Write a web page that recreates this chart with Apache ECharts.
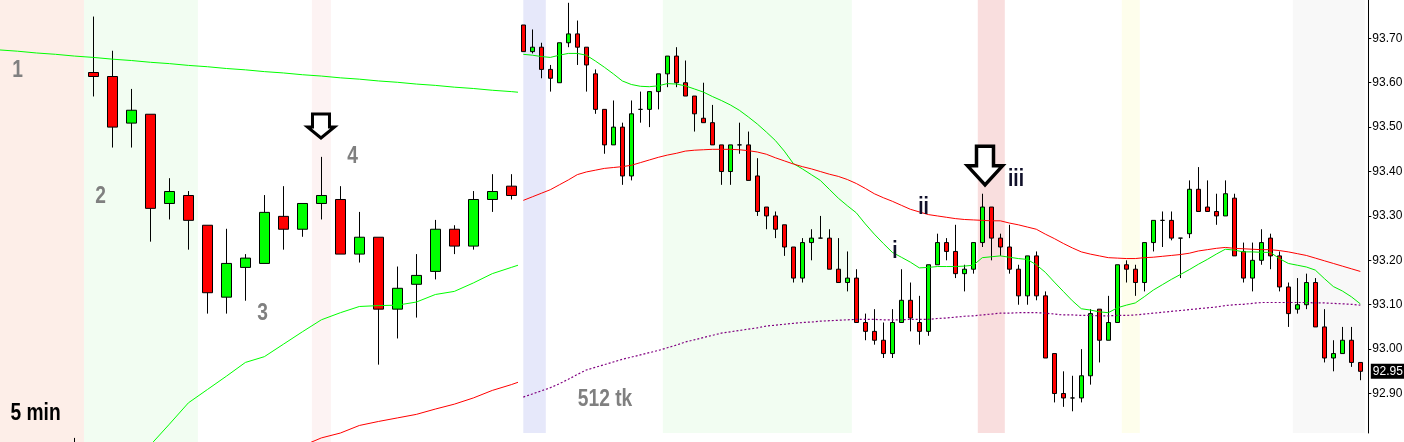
<!DOCTYPE html>
<html><head><meta charset="utf-8">
<script src="https://cdn.jsdelivr.net/npm/echarts@6/dist/echarts.min.js"></script>
<style>html,body{margin:0;padding:0;background:#fff;overflow:hidden}#c{width:1404px;height:442px}</style>
</head><body><div id="c"></div>
<script>
// ---------------- DATA ----------------
// Left panel (5 min), candles indexed from leftStart
const leftStart = -1;
const leftOpen  = [92.75, 93.623, 93.614, 93.509, 93.529, 93.328, 93.346, 93.279, 93.117, 93.184, 93.193, 93.299, 93.270, 93.328, 93.337, 93.214, 93.252, 93.090, 93.146, 93.175, 93.270, 93.232, 93.337, 93.367];
const leftHigh  = [92.80, 93.749, 93.672, 93.586, 93.529, 93.385, 93.356, 93.279, 93.271, 93.214, 93.347, 93.367, 93.328, 93.433, 93.367, 93.309, 93.252, 93.186, 93.214, 93.291, 93.279, 93.356, 93.394, 93.394];
const leftLow   = [92.70, 93.569, 93.454, 93.454, 93.242, 93.292, 93.224, 93.080, 93.080, 93.109, 93.193, 93.224, 93.253, 93.292, 93.214, 93.195, 92.965, 93.024, 93.071, 93.157, 93.214, 93.224, 93.309, 93.337];
const leftClose = [92.72, 93.614, 93.500, 93.538, 93.317, 93.355, 93.290, 93.127, 93.193, 93.205, 93.308, 93.270, 93.328, 93.346, 93.214, 93.252, 93.090, 93.137, 93.166, 93.270, 93.232, 93.337, 93.355, 93.346];
const leftMaLongStart = -5;
const leftMaLong = [93.674, 93.671, 93.667, 93.664, 93.660, 93.657, 93.653, 93.650, 93.646, 93.643, 93.639, 93.636, 93.632, 93.629, 93.625, 93.622, 93.618, 93.615, 93.611, 93.608, 93.604, 93.601, 93.597, 93.594, 93.590, 93.587, 93.583, 93.580, 93.576];
const leftMaGreenStart = 2;
const leftMaGreen = [92.72, 92.784, 92.831, 92.879, 92.909, 92.939, 92.970, 92.983, 93.011, 93.039, 93.066, 93.082, 93.096, 93.098, 93.099, 93.106, 93.123, 93.130, 93.149, 93.170, 93.184, 93.198];
const leftMaRedStart = 11;
const leftMaRed = [92.782, 92.800, 92.811, 92.828, 92.837, 92.845, 92.853, 92.865, 92.876, 92.890, 92.907, 92.920, 92.935];

// Right panel (512 tk), candles indexed from rightStart
const rightStart = -1;
const rightOpen  = [93.73,93.67,93.68,93.63,93.60,93.69,93.71,93.68,93.62,93.54,93.46,93.50,93.39,93.54,93.54,93.58,93.62,93.66,93.60,93.57,93.52,93.51,93.46,93.40,93.46,93.46,93.39,93.32,93.30,93.28,93.23,93.16,93.24,93.25,93.25,93.18,93.15,93.16,93.06,93.04,93.02,92.99,93.06,93.11,93.06,93.04,93.19,93.24,93.22,93.17,93.18,93.24,93.32,93.25,93.23,93.18,93.12,93.21,93.12,92.99,92.90,92.89,92.89,92.94,93.09,93.02,93.06,93.19,93.18,93.15,93.24,93.29,93.29,93.25,93.26,93.36,93.32,93.31,93.30,93.34,93.22,93.16,93.20,93.25,93.21,93.14,93.09,93.10,93.15,93.05,92.98,92.99,93.02,92.97];
const rightHigh  = [93.73,93.72,93.69,93.64,93.69,93.78,93.74,93.68,93.63,93.54,93.56,93.51,93.56,93.58,93.58,93.62,93.66,93.68,93.65,93.57,93.60,93.55,93.46,93.46,93.51,93.49,93.43,93.32,93.31,93.28,93.23,93.25,93.27,93.30,93.27,93.25,93.22,93.18,93.08,93.09,93.06,93.09,93.18,93.15,93.12,93.19,93.26,93.25,93.28,93.19,93.24,93.35,93.32,93.26,93.28,93.19,93.21,93.22,93.13,92.99,92.95,92.94,93.00,93.09,93.09,93.12,93.19,93.20,93.19,93.24,93.29,93.31,93.31,93.25,93.38,93.41,93.38,93.35,93.38,93.35,93.24,93.24,93.27,93.26,93.22,93.15,93.16,93.17,93.16,93.09,93.02,93.05,93.05,92.97];
const rightLow   = [93.67,93.666,93.61,93.58,93.60,93.68,93.64,93.58,93.53,93.44,93.46,93.37,93.38,93.51,93.50,93.54,93.59,93.59,93.57,93.49,93.51,93.46,93.37,93.37,93.44,93.38,93.30,93.27,93.25,93.21,93.15,93.15,93.20,93.25,93.18,93.15,93.13,93.06,93.02,93.01,92.98,92.98,93.06,93.04,93.01,93.03,93.19,93.20,93.16,93.13,93.17,93.23,93.20,93.21,93.17,93.10,93.10,93.11,92.98,92.88,92.87,92.86,92.88,92.92,92.97,93.02,93.06,93.15,93.12,93.13,93.22,93.23,93.245,93.16,93.25,93.31,93.31,93.28,93.30,93.21,93.15,93.13,93.19,93.18,93.13,93.05,93.08,93.09,93.05,92.97,92.95,92.99,92.96,92.93];
const rightClose = [93.67,93.68,93.63,93.61,93.69,93.71,93.68,93.64,93.54,93.46,93.50,93.39,93.53,93.54,93.58,93.62,93.66,93.60,93.57,93.53,93.51,93.46,93.40,93.46,93.46,93.38,93.31,93.30,93.27,93.23,93.16,93.24,93.25,93.25,93.18,93.15,93.16,93.06,93.04,93.02,92.99,93.06,93.11,93.07,93.04,93.19,93.24,93.22,93.17,93.18,93.24,93.32,93.25,93.23,93.18,93.12,93.21,93.12,92.98,92.90,92.89,92.89,92.94,93.08,93.02,93.06,93.19,93.18,93.15,93.24,93.29,93.29,93.25,93.25,93.36,93.31,93.31,93.30,93.35,93.21,93.16,93.20,93.24,93.21,93.14,93.08,93.10,93.15,93.05,92.98,92.99,93.02,92.97,92.95];
const rightMaGreen = [93.664,93.662,93.659,93.657,93.662,93.666,93.666,93.662,93.649,93.635,93.620,93.604,93.596,93.592,93.591,93.593,93.598,93.597,93.593,93.586,93.579,93.569,93.560,93.550,93.538,93.523,93.507,93.489,93.470,93.446,93.418,93.406,93.393,93.380,93.360,93.340,93.323,93.307,93.282,93.259,93.238,93.218,93.207,93.196,93.183,93.184,93.186,93.186,93.186,93.187,93.189,93.206,93.208,93.210,93.207,93.204,93.202,93.190,93.173,93.151,93.130,93.109,93.091,93.088,93.084,93.082,93.093,93.099,93.104,93.118,93.133,93.145,93.157,93.168,93.179,93.191,93.202,93.214,93.225,93.223,93.219,93.219,93.218,93.218,93.204,93.193,93.189,93.185,93.178,93.159,93.141,93.131,93.118,93.102];
const rightMaRed = [93.335,93.343,93.351,93.359,93.370,93.381,93.393,93.399,93.403,93.407,93.409,93.411,93.414,93.420,93.426,93.432,93.437,93.441,93.446,93.448,93.449,93.450,93.450,93.450,93.449,93.447,93.444,93.439,93.431,93.424,93.417,93.411,93.406,93.400,93.394,93.389,93.382,93.373,93.362,93.350,93.341,93.333,93.324,93.315,93.309,93.303,93.300,93.297,93.294,93.292,93.291,93.290,93.289,93.289,93.284,93.280,93.275,93.270,93.259,93.249,93.238,93.228,93.219,93.214,93.210,93.206,93.205,93.204,93.204,93.206,93.207,93.209,93.211,93.213,93.216,93.221,93.224,93.227,93.229,93.227,93.226,93.225,93.224,93.224,93.222,93.219,93.215,93.211,93.205,93.199,93.193,93.187,93.181,93.175];
const rightMaPurple = [92.892,92.899,92.906,92.913,92.922,92.932,92.943,92.953,92.959,92.965,92.971,92.977,92.982,92.987,92.992,92.997,93.003,93.009,93.016,93.021,93.026,93.031,93.036,93.039,93.042,93.045,93.048,93.052,93.054,93.056,93.058,93.060,93.061,93.063,93.064,93.065,93.066,93.067,93.067,93.067,93.066,93.066,93.066,93.067,93.067,93.067,93.069,93.070,93.072,93.074,93.075,93.077,93.079,93.081,93.081,93.082,93.082,93.082,93.081,93.079,93.077,93.077,93.076,93.076,93.075,93.075,93.076,93.076,93.077,93.079,93.081,93.083,93.085,93.087,93.089,93.091,93.093,93.095,93.098,93.100,93.101,93.103,93.105,93.105,93.105,93.105,93.105,93.105,93.104,93.104,93.103,93.102,93.101,93.099];

const priceTicks = [92.8, 92.9, 93.0, 93.1, 93.2, 93.3, 93.4, 93.5, 93.6, 93.7];
const leftSessions  = [[-4.92, -0.5], [-0.5, 5.5], [11.5, 12.5]];
const rightSessions = [[-1.0, 1.5], [14.5, 35.5], [49.5, 52.5], [65.5, 67.5], [84.5, 92.5]];
const leftLabels  = [['1', -3.99, 93.627], ['2', 0.38, 93.345], ['3', 8.9, 93.080], ['4', 13.64, 93.433]];
const rightLabels = [['i', 40.3, 93.220], ['ii', 43.47, 93.320], ['iii', 53.74, 93.383]];
const leftArrowAt  = [11.98, 93.4755];
const rightArrowAt = [50.3, 93.370];

// ---------------- STYLE / LAYOUT ----------------
const leftBandColors  = ['#fdeee8', '#f2fdf2', '#fdf3f3'];
const rightBandColors = ['#e6e8fa', '#f2fdf2', '#f9dede', '#fefeec', '#f8f8f8'];
const AXFONT = '"Liberation Sans",Arial,sans-serif';
const NOTEFONT = 'bold 24px "Liberation Sans",Arial,sans-serif';
const NOTESCALE = 0.8;
// intended view windows (data units) and pixel rectangles
const view = [
  { x: [-4.92, 22.3],   y: [92.7908, 93.7863], rect: [0, 0, 517, 442] },
  { x: [-1.0, 92.889],  y: [92.8111, 93.7863], rect: [523.3, 0, 845, 433] }
];

function candles(start, o, h, l, c) { return o.map((v, i) => [start + i, v, c[i], l[i], h[i]]); }
function line(start, arr) { return arr.map((v, i) => [start + i, v]); }
function bands(ranges, colors) {
  return ranges.map((r, i) => [{ xAxis: r[0], itemStyle: { color: colors[i] } }, { xAxis: r[1] }]);
}

const chart = echarts.init(document.getElementById('c'), null, { renderer: 'canvas' });
const candleStyle = { color: '#00ff00', color0: '#ff0000', borderColor: '#000', borderColor0: '#000', borderColorDoji: '#000', borderWidth: 1 };
const lastClose = rightClose[rightClose.length - 1];

chart.setOption({
  animation: false,
  backgroundColor: '#fff',
  grid: view.map(v => ({ left: v.rect[0], top: v.rect[1], width: v.rect[2], height: v.rect[3], outerBoundsMode: 'none', containLabel: false })),
  xAxis: view.map((v, i) => ({ type: 'value', gridIndex: i, min: v.x[0], max: v.x[1], show: false, splitLine: { show: false } })),
  yAxis: [
    { type: 'value', gridIndex: 0, min: view[0].y[0], max: view[0].y[1], show: false, splitLine: { show: false } },
    { type: 'value', gridIndex: 1, min: view[1].y[0], max: view[1].y[1], position: 'right',
      splitLine: { show: false },
      axisLine: { show: true, onZero: false, lineStyle: { color: '#000', width: 1 } },
      axisTick: { show: true, length: 3, lineStyle: { color: '#000' }, customValues: priceTicks },
      axisLabel: { show: true, margin: 4, color: '#000', fontSize: 12, fontFamily: AXFONT,
        customValues: priceTicks, formatter: v => v.toFixed(2) } }
  ],
  series: [
    { type: 'line', xAxisIndex: 0, yAxisIndex: 0, data: [], z: 1, silent: true,
      markArea: { silent: true, data: bands(leftSessions, leftBandColors) } },
    { type: 'line', xAxisIndex: 1, yAxisIndex: 1, data: [], z: 1, silent: true,
      markArea: { silent: true, data: bands(rightSessions, rightBandColors) } },
    { type: 'candlestick', xAxisIndex: 0, yAxisIndex: 0, z: 2, barWidth: 10, clip: true,
      encode: { x: 0, y: [1, 2, 3, 4] }, itemStyle: candleStyle,
      data: candles(leftStart, leftOpen, leftHigh, leftLow, leftClose) },
    { type: 'candlestick', xAxisIndex: 1, yAxisIndex: 1, z: 2, barWidth: 5, clip: true,
      encode: { x: 0, y: [1, 2, 3, 4] }, itemStyle: candleStyle,
      data: candles(rightStart, rightOpen, rightHigh, rightLow, rightClose) },
    { type: 'line', xAxisIndex: 0, yAxisIndex: 0, z: 3, symbol: 'none', data: line(leftMaLongStart, leftMaLong), lineStyle: { color: '#00ff00', width: 1 } },
    { type: 'line', xAxisIndex: 0, yAxisIndex: 0, z: 3, symbol: 'none', data: line(leftMaGreenStart, leftMaGreen), lineStyle: { color: '#00ff00', width: 1 } },
    { type: 'line', xAxisIndex: 0, yAxisIndex: 0, z: 3, symbol: 'none', data: line(leftMaRedStart, leftMaRed), lineStyle: { color: '#ff0000', width: 1 } },
    { type: 'line', xAxisIndex: 1, yAxisIndex: 1, z: 3, symbol: 'none', data: line(rightStart, rightMaGreen), lineStyle: { color: '#00ee00', width: 1 } },
    { type: 'line', xAxisIndex: 1, yAxisIndex: 1, z: 3, symbol: 'none', data: line(rightStart, rightMaRed), lineStyle: { color: '#ff0000', width: 1 } },
    { type: 'line', xAxisIndex: 1, yAxisIndex: 1, z: 3, symbol: 'none', data: line(rightStart, rightMaPurple), lineStyle: { color: '#800080', width: 1.2, type: [2, 2] } }
  ]
});

// calibrate axes so that the intended data window maps exactly onto the intended pixel rectangles
(function calibrate() {
  const cur = view.map(v => ({ x: v.x.slice(), y: v.y.slice() }));
  for (let it = 0; it < 4; it++) {
    view.forEach((v, a) => {
      const f = { xAxisIndex: a, yAxisIndex: a };
      const p0 = chart.convertToPixel(f, [v.x[0], v.y[0]]);
      const p1 = chart.convertToPixel(f, [v.x[1], v.y[1]]);
      if (!p0 || !p1) return;
      const [rx, ry, rw, rh] = v.rect;
      const bx = (p1[0] - p0[0]) / (v.x[1] - v.x[0]);
      const by = (p1[1] - p0[1]) / (v.y[1] - v.y[0]);
      const vL = v.x[0] + (rx - p0[0]) / bx, vR = v.x[0] + (rx + rw - p0[0]) / bx;
      const vB = v.y[0] + (ry + rh - p0[1]) / by, vT = v.y[0] + (ry - p0[1]) / by;
      cur[a].x[0] += v.x[0] - vL; cur[a].x[1] += v.x[1] - vR;
      cur[a].y[0] += v.y[0] - vB; cur[a].y[1] += v.y[1] - vT;
    });
    chart.setOption({
      xAxis: cur.map(c => ({ min: c.x[0], max: c.x[1] })),
      yAxis: cur.map(c => ({ min: c.y[0], max: c.y[1] }))
    });
  }
})();

// annotations anchored in data coordinates
function px(g, pt) { return chart.convertToPixel({ xAxisIndex: g, yAxisIndex: g }, pt); }
const g = [];
function note(p, t, fill, align) {
  return { type: 'text', x: p[0], y: p[1], scaleX: NOTESCALE, z: 100,
    style: { text: t, font: NOTEFONT, fill: fill, align: align || 'center', verticalAlign: 'middle' } };
}
leftLabels.forEach(([t, x, y]) => g.push(note(px(0, [x, y]), t, '#808080')));
rightLabels.forEach(([t, x, y]) => g.push(note(px(1, [x, y]), t, '#10102a')));
function arrow(p, hw, sw, hh, total, lw) {
  return { type: 'polygon', x: p[0], y: p[1], z: 100,
    shape: { points: [[0, 0], [-hw, -hh], [-sw, -hh], [-sw, -total], [sw, -total], [sw, -hh], [hw, -hh]] },
    style: { fill: '#fff', stroke: '#000', lineWidth: lw, lineJoin: 'miter' } };
}
g.push(arrow(px(0, leftArrowAt), 13.5, 8.5, 11, 24, 3));
g.push(arrow(px(1, rightArrowAt), 17.5, 8.5, 19, 38.5, 3.5));
g.push(note([10.5, 413.5], '5 min', '#000', 'left'));
g.push(note([605, 399], '512 tk', '#808080'));
// last-price tag on the price axis
const lp = px(1, [view[1].x[1], lastClose]);
g.push({ type: 'text', x: lp[0] + 2.5, y: lp[1], z: 100,
  style: { text: lastClose.toFixed(2), font: '12px ' + AXFONT, fill: '#fff', backgroundColor: '#000',
    padding: [2, 2, 1, 2], align: 'left', verticalAlign: 'middle' } });
chart.setOption({ graphic: g });
</script>
</body></html>
